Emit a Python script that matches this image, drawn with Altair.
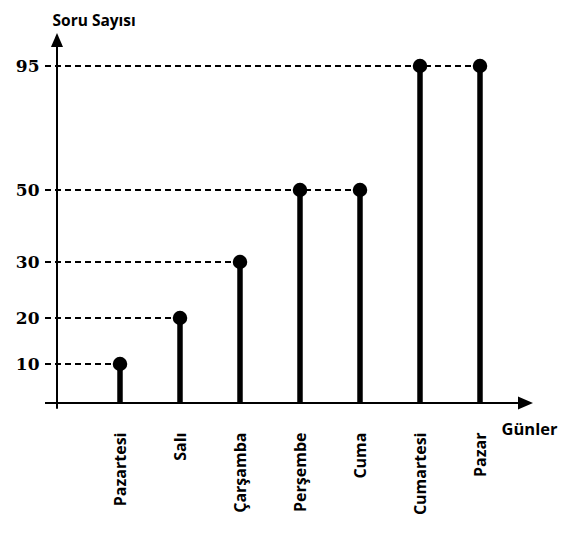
import json
import altair as alt
import pandas as pd

days = ["Pazartesi", "Salı", "Çarşamba", "Perşembe", "Cuma", "Cumartesi", "Pazar"]
values = [10, 20, 30, 50, 50, 95, 95]
y_ticks = [10, 20, 30, 50, 95]

# piecewise (non-uniform) vertical scale as drawn in the reference
y_domain = [0, 10, 20, 30, 50, 95]
y_range = [373, 334, 288, 232, 160, 36]

df = pd.DataFrame({"day": days, "pos": list(range(1, len(days) + 1)),
                   "value": values, "base": [0] * len(days)})
dash = df.groupby("value", as_index=False)["pos"].max()
dash["start"] = -0.25

xs = alt.Scale(domain=[-0.25, 8.0], nice=False, zero=False)
ys = alt.Scale(domain=y_domain, range=y_range, nice=False, zero=False)

label_expr = json.dumps(days) + "[datum.value - 1]"

x_axis = alt.Axis(values=list(range(1, len(days) + 1)), labelExpr=label_expr,
                  labelAngle=-90, labelPadding=29, labelFont="Open Sans",
                  labelFontWeight="bold", labelFontSize=16, labelColor="black",
                  domain=False, ticks=False, grid=False,
                  title="Günler", titleX=456, titleY=31, titleAlign="left",
                  titleBaseline="alphabetic", titleFont="Open Sans",
                  titleFontSize=16.5, titleFontWeight="bold", titleColor="black")
y_axis = alt.Axis(values=y_ticks, labelPadding=6, labelFont="DejaVu Serif",
                  labelFontWeight="bold", labelFontSize=17, labelColor="black",
                  domain=False, ticks=False, grid=False,
                  title="Soru Sayısı", titleAngle=0, titleX=7, titleY=-5,
                  titleAlign="left", titleBaseline="alphabetic",
                  titleFont="Open Sans", titleFontSize=15.5,
                  titleFontWeight="bold", titleColor="black")

stems = alt.Chart(df).mark_rule(color="black", strokeWidth=5.5).encode(
    x=alt.X("pos:Q", scale=xs, axis=x_axis),
    y=alt.Y("value:Q", scale=ys, axis=y_axis),
    y2="base:Q",
)

dashes = alt.Chart(dash).mark_rule(color="black", strokeWidth=2,
                                   strokeDash=[6, 4]).encode(
    x=alt.X("start:Q", scale=xs),
    x2="pos:Q",
    y=alt.Y("value:Q", scale=ys),
)

dots = alt.Chart(df).mark_point(filled=True, color="black", size=210,
                                opacity=1, shape="circle").encode(
    x=alt.X("pos:Q", scale=xs),
    y=alt.Y("value:Q", scale=ys),
)

xaxis_df = pd.DataFrame({"x": [-0.25], "x2": [7.633], "y": [0]})
yaxis_df = pd.DataFrame({"x": [-0.05], "y": [-1.5], "y2": [102]})

x_line = alt.Chart(xaxis_df).mark_rule(color="black", strokeWidth=2).encode(
    x=alt.X("x:Q", scale=xs), x2="x2:Q",
    y=alt.Y("y:Q", scale=ys))
y_line = alt.Chart(yaxis_df).mark_rule(color="black", strokeWidth=2).encode(
    x=alt.X("x:Q", scale=xs),
    y=alt.Y("y:Q", scale=ys), y2="y2:Q")

x_arrow_df = pd.DataFrame({"x": [7.758], "y": [0]})
y_arrow_df = pd.DataFrame({"x": [-0.05], "y": [104.4]})

x_arrow = alt.Chart(x_arrow_df).mark_point(
    filled=True, color="black", opacity=1, size=225, strokeWidth=0,
    shape="M1,0L-1,-0.87L-1,0.87Z").encode(
    x=alt.X("x:Q", scale=xs), y=alt.Y("y:Q", scale=ys))
y_arrow = alt.Chart(y_arrow_df).mark_point(
    filled=True, color="black", opacity=1, size=196, strokeWidth=0,
    shape="M0,-1L0.86,1L-0.86,1Z").encode(
    x=alt.X("x:Q", scale=xs), y=alt.Y("y:Q", scale=ys))

chart = alt.layer(stems, dashes, x_line, y_line, x_arrow, y_arrow, dots).properties(
    width=495, height=373,
    autosize=alt.AutoSizeParams(type="none"),
    padding={"left": 37, "top": 22, "right": 30, "bottom": 140},
    background="white",
).configure_view(stroke=None)

chart.save("out.html", embed_options={"renderer": "svg", "actions": False})
